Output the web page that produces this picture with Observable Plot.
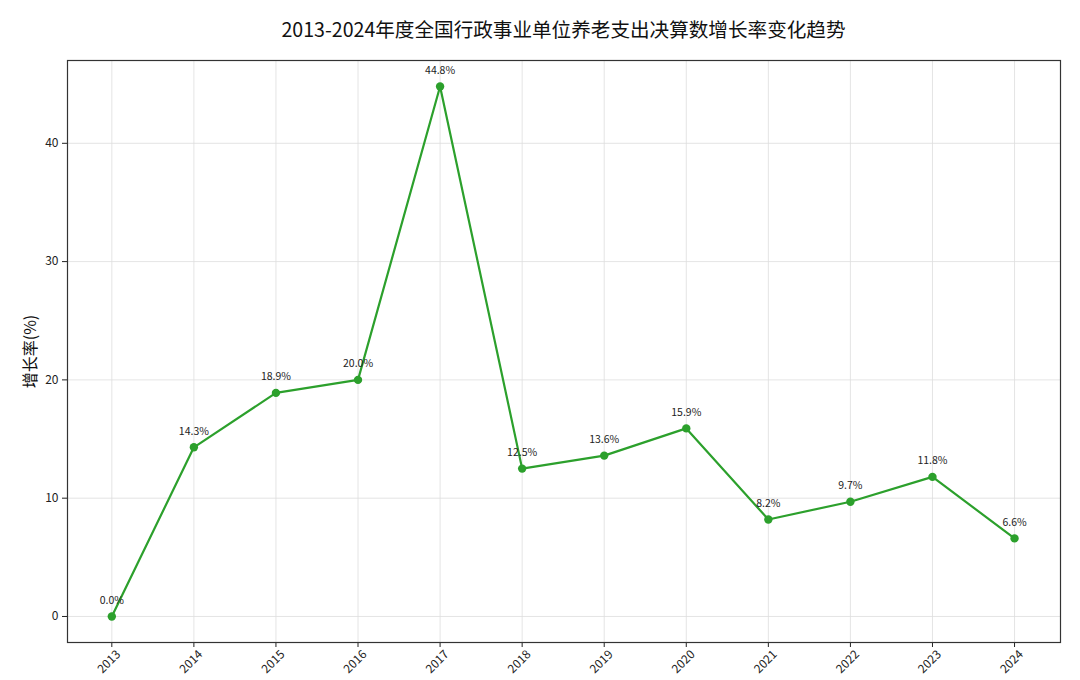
<!DOCTYPE html>
<html>
<head>
<meta charset="utf-8">
<script src="https://cdn.jsdelivr.net/npm/d3@7"></script>
<script src="https://cdn.jsdelivr.net/npm/@observablehq/plot@0.6"></script>
<style>
  body { margin: 0; background: #fff; font-family: "Noto Sans CJK SC", "Noto Sans", sans-serif; }
  #title { height: 48px; line-height: 58px; text-align: center; font-size: 19.6px; color: #111; padding-left: 47px; width: 1033px; }
  #chart svg { display: block; }
</style>
</head>
<body>
<div id="title">2013-2024年度全国行政事业单位养老支出决算数增长率变化趋势</div>
<div id="chart"></div>
<script>
const years = [2013, 2014, 2015, 2016, 2017, 2018, 2019, 2020, 2021, 2022, 2023, 2024];
const growth = [0.0, 14.3, 18.9, 20.0, 44.8, 12.5, 13.6, 15.9, 8.2, 9.7, 11.8, 6.6];
const yTicks = [0, 10, 20, 30, 40];

const data = years.map((y, i) => ({year: y, value: growth[i]}));

const chart = Plot.plot({
  width: 1080,
  height: 632,
  marginLeft: 67,
  marginRight: 20,
  marginTop: 12,
  marginBottom: 38,
  style: {fontFamily: '"Noto Sans CJK SC", "Noto Sans", sans-serif', fontSize: "11px", color: "#222", background: "#fff"},
  x: {domain: [2012.46, 2024.56], label: null},
  y: {domain: [-2.2, 47.0], label: null},
  marks: [
    Plot.gridX(years, {stroke: "#ddd", strokeOpacity: 1, strokeWidth: 0.8}),
    Plot.gridY(yTicks, {stroke: "#ddd", strokeOpacity: 1, strokeWidth: 0.8}),
    Plot.axisX({ticks: years, text: null, tickSize: 5, label: null}),
    Plot.text(years, {x: d => d, text: d => String(d), frameAnchor: "bottom", dy: 22, rotate: -45, textAnchor: "middle", fontSize: 12, fill: "#222"}),
    Plot.axisY({ticks: yTicks, fontSize: 12, tickSize: 5, label: null}),
    Plot.text(["增长率(%)"], {frameAnchor: "left", textAnchor: "middle", dx: -37, rotate: -90, fontSize: 16, fill: "#111"}),
    Plot.frame({stroke: "#333", strokeWidth: 1.2}),
    Plot.line(data, {x: "year", y: "value", stroke: "#2ca02c", strokeWidth: 2.2}),
    Plot.dot(data, {x: "year", y: "value", fill: "#2ca02c", r: 4.2}),
    Plot.text(data, {x: "year", y: "value", text: d => d.value.toFixed(1) + "%", dy: -16, fontSize: 10.5, fill: "#222"})
  ]
});
document.getElementById("chart").appendChild(chart);
</script>
</body>
</html>
